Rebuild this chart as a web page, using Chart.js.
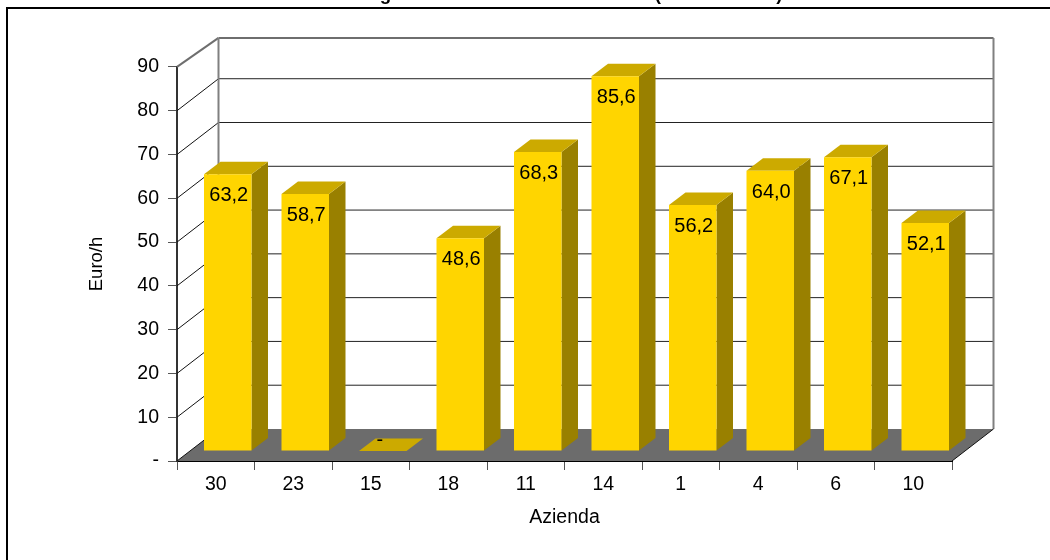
<!DOCTYPE html>
<html>
<head>
<meta charset="utf-8">
<style>
  html, body { margin: 0; padding: 0; background: #fff; overflow: hidden; }
  #frame { position: absolute; left: 6px; top: 7px; right: 0; bottom: 0; border-left: 2px solid #000; border-top: 2px solid #000; }
  #chartCanvas { position: absolute; left: 0; top: 0; }
</style>
</head>
<body>
<div id="frame"></div>
<canvas id="chartCanvas" width="1050" height="560"></canvas>
<script src="https://cdn.jsdelivr.net/npm/chart.js@4"></script>
<script>
const aziende = ['30', '23', '15', '18', '11', '14', '1', '4', '6', '10'];
const euroOra = [63.2, 58.7, 0, 48.6, 68.3, 85.6, 56.2, 64.0, 67.1, 52.1];
const yTickLabels = ['-', '10', '20', '30', '40', '50', '60', '70', '80', '90'];
const chartTitle = 'Margine lordo orario delle aziende (valore medio)';

const FONT = '"Liberation Sans", Arial, sans-serif';
const WALL_DX = 41.5, WALL_DY = 32;   // offset of the back wall
const BAR_DX = 12, BAR_DY = 10;       // offset of the bars from the front edge
const DEPTH_DX = 16.5, DEPTH_DY = 12.5; // depth of each bar

function line(ctx, x1, y1, x2, y2, color, width) {
  ctx.strokeStyle = color;
  ctx.lineWidth = width;
  ctx.beginPath();
  ctx.moveTo(x1, y1);
  ctx.lineTo(x2, y2);
  ctx.stroke();
}

function poly(ctx, points, color) {
  ctx.fillStyle = color;
  ctx.beginPath();
  points.forEach(([x, y], i) => (i ? ctx.lineTo(x, y) : ctx.moveTo(x, y)));
  ctx.closePath();
  ctx.fill();
}

const box3d = {
  id: 'box3d',
  beforeDatasetsDraw(chart) {
    const { ctx, chartArea: a, scales: { y } } = chart;
    const floor = y.getPixelForValue(0);
    const backL = a.left + WALL_DX, backR = a.right + WALL_DX;
    const wallTop = a.top - WALL_DY + 3;

    ctx.save();
    poly(ctx, [[a.left, floor], [backL, floor - WALL_DY], [backR, floor - WALL_DY], [a.right, floor]], '#6c6c6c');

    yTickLabels.forEach((_, i) => {
      if (i === 0) return;
      const v = i * 10;
      const py = y.getPixelForValue(v);
      if (v < 90) {
        line(ctx, a.left, py, backL, py - WALL_DY, '#111', 1);
        line(ctx, backL, py - WALL_DY, backR, py - WALL_DY, '#222', 1);
      }
    });
    line(ctx, backL, wallTop, backR, wallTop, '#6e6e6e', 2);
    line(ctx, a.left, a.top, backL, wallTop, '#6e6e6e', 2);
    line(ctx, backL, wallTop, backL, floor - WALL_DY, '#808080', 2);
    line(ctx, backR, wallTop, backR, floor - WALL_DY, '#808080', 2);
    line(ctx, a.right, floor, backR, floor - WALL_DY, '#111', 1);
    line(ctx, a.left, floor, backL, floor - WALL_DY, '#111', 1);

    // side and top of each bar, the front comes from the library
    const meta = chart.getDatasetMeta(0);
    meta.data.forEach(bar => {
      const l = bar.x - bar.width / 2 + BAR_DX;
      const r = bar.x + bar.width / 2 + BAR_DX;
      const top = bar.y - BAR_DY;
      const base = bar.base - BAR_DY;
      poly(ctx, [[r, top], [r + DEPTH_DX, top - DEPTH_DY], [r + DEPTH_DX, base - DEPTH_DY], [r, base]], '#998000');
      poly(ctx, [[l, top], [l + DEPTH_DX, top - DEPTH_DY], [r + DEPTH_DX, top - DEPTH_DY], [r, top]], '#ccaa00');
    });
    ctx.restore();
  },
  beforeDatasetDraw(chart) {
    chart.ctx.save();
    chart.ctx.translate(BAR_DX, -BAR_DY);
  },
  afterDatasetDraw(chart) {
    chart.ctx.restore();
  },
  afterDatasetsDraw(chart) {
    const { ctx } = chart;
    const meta = chart.getDatasetMeta(0);
    ctx.save();
    ctx.fillStyle = '#000';
    ctx.font = '20px ' + FONT;
    ctx.textAlign = 'center';
    ctx.textBaseline = 'middle';
    meta.data.forEach((bar, i) => {
      const v = euroOra[i];
      if (v === 0) {
        ctx.fillText('-', bar.x + BAR_DX - 3, bar.y - BAR_DY - 11);
      } else {
        ctx.fillText(v.toFixed(1).replace('.', ','), bar.x + BAR_DX + 1, bar.y - BAR_DY + 21.5);
      }
    });
    ctx.restore();
  }
};

new Chart(document.getElementById('chartCanvas'), {
  type: 'bar',
  data: {
    labels: aziende,
    datasets: [{
      data: euroOra,
      backgroundColor: '#ffd500',
      borderWidth: 0,
      barPercentage: 1,
      categoryPercentage: 0.613,
      clip: false
    }]
  },
  plugins: [box3d],
  options: {
    responsive: false,
    animation: false,
    layout: { padding: { left: 0, right: 98, top: 0, bottom: 0 } },
    plugins: {
      legend: { display: false },
      tooltip: { enabled: false },
      title: {
        display: true,
        text: chartTitle,
        fullSize: false,
        color: '#000',
        font: { family: FONT, size: 18.7, weight: 'bold', lineHeight: 1.2 },
        padding: { top: -16.5, bottom: 61 }
      }
    },
    scales: {
      x: {
        afterFit(scale) { scale.height = 99; },
        grid: { offset: true, drawOnChartArea: false, drawTicks: true, tickLength: 9, color: '#555' },
        border: { color: '#000', width: 2 },
        ticks: { color: '#000', font: { family: FONT, size: 19.5 }, padding: 3, maxRotation: 0, autoSkip: false },
        title: {
          display: true,
          text: 'Azienda',
          color: '#000',
          font: { family: FONT, size: 19.5, lineHeight: 1.2 },
          padding: { top: 0, bottom: 31 }
        }
      },
      y: {
        min: 0,
        max: 90,
        afterFit(scale) { scale.width = 177; },
        grid: { drawOnChartArea: false, drawTicks: true, tickLength: 9, color: '#555' },
        border: { color: '#333', width: 2 },
        ticks: {
          stepSize: 10,
          color: '#000',
          padding: 9,
          font: { family: FONT, size: 19.5 },
          callback: (value) => yTickLabels[value / 10]
        },
        title: {
          display: true,
          text: 'Euro/h',
          color: '#000',
          font: { family: FONT, size: 18.5, lineHeight: 1.2 },
          padding: { top: 85.5, bottom: 0 }
        }
      }
    }
  }
});
</script>
</body>
</html>
